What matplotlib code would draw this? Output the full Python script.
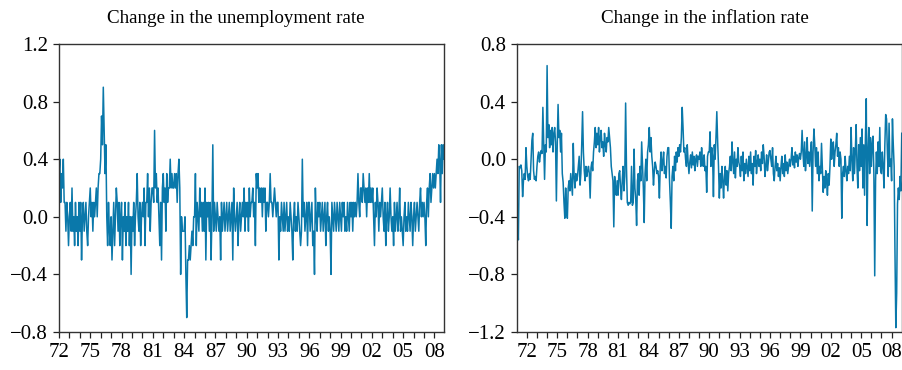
import numpy as np
import matplotlib
matplotlib.use("Agg")
import matplotlib.pyplot as plt

plt.rcParams["font.family"] = ["Liberation Serif", "DejaVu Serif"]
plt.rcParams["axes.unicode_minus"] = True

# Monthly change in the unemployment rate, Jan 1972 - Dec 2008
unemp_start = 1972
unemp_change = [
    0.3, 0.4, 0.1, 0.3, 0.2, 0.4, 0.1, 0.1, -0.1, 0.1, 0.0, -0.2,
    0.0, 0.1, -0.1, 0.2, -0.1, 0.0, -0.2, 0.1, -0.1, 0.0, -0.2, 0.1,
    -0.1, 0.1, -0.3, 0.0, 0.1, -0.1, 0.0, 0.1, -0.1, -0.2, 0.0, 0.1,
    0.2, 0.0, 0.1, -0.1, 0.1, 0.0, 0.1, 0.2, 0.0, 0.2, 0.3, 0.3,
    0.4, 0.7, 0.5, 0.9, 0.6, 0.3, 0.5, 0.0, -0.2, 0.1, -0.1, -0.2,
    0.0, -0.3, -0.1, 0.1, -0.2, 0.0, 0.2, 0.1, -0.1, 0.1, -0.2, 0.0,
    0.1, -0.3, 0.0, -0.1, 0.1, -0.2, 0.0, -0.1, 0.1, -0.2, 0.0, -0.4,
    0.0, -0.1, 0.1, -0.2, 0.0, 0.1, 0.3, 0.0, -0.1, 0.1, -0.2, 0.0,
    0.1, 0.0, 0.2, -0.2, 0.1, 0.1, 0.3, 0.0, 0.2, -0.1, 0.1, 0.2,
    0.2, 0.1, 0.6, 0.2, 0.3, 0.1, 0.2, 0.0, -0.2, 0.1, -0.3, 0.2,
    0.3, 0.1, 0.2, -0.1, 0.3, 0.1, 0.2, 0.2, 0.4, 0.2, 0.3, 0.2,
    0.2, 0.3, 0.2, 0.3, 0.1, 0.3, 0.4, 0.2, -0.4, 0.0, -0.1, -0.1,
    -0.1, 0.0, -0.4, -0.7, -0.3, -0.3, -0.2, -0.3, -0.2, -0.1, -0.2, 0.0,
    0.0, 0.3, -0.2, 0.1, 0.0, -0.1, 0.2, 0.0, 0.1, -0.1, 0.1, -0.1,
    0.2, -0.3, 0.1, 0.0, 0.1, -0.1, 0.1, -0.3, 0.0, 0.5, -0.1, 0.1,
    0.0, -0.1, 0.1, 0.0, -0.1, 0.0, -0.3, 0.1, -0.1, 0.0, 0.1, -0.1,
    0.0, 0.1, -0.1, 0.0, 0.1, -0.1, 0.0, 0.1, -0.3, 0.2, 0.0, -0.1,
    0.0, 0.1, -0.2, 0.0, 0.1, -0.1, 0.0, 0.1, 0.0, 0.2, -0.1, 0.1,
    0.0, 0.1, -0.1, 0.2, 0.0, 0.1, 0.1, 0.2, 0.0, 0.1, -0.2, 0.3,
    0.2, 0.3, 0.1, 0.2, 0.1, 0.2, 0.0, 0.2, 0.1, 0.2, -0.1, 0.1,
    0.1, 0.0, 0.1, 0.3, 0.1, 0.1, 0.0, 0.1, 0.2, 0.1, 0.0, 0.1,
    0.1, -0.3, 0.0, -0.1, 0.1, 0.0, -0.1, 0.1, -0.1, 0.0, 0.1, -0.1,
    0.0, -0.1, 0.1, 0.0, -0.1, -0.3, 0.0, 0.1, -0.1, 0.0, -0.1, 0.1,
    0.0, -0.1, -0.2, -0.1, 0.4, 0.0, 0.1, -0.1, 0.0, 0.1, -0.2, 0.1,
    0.1, -0.1, 0.0, 0.1, -0.2, -0.1, -0.4, 0.2, 0.0, -0.1, 0.1, 0.0,
    0.1, -0.1, 0.0, 0.1, -0.1, 0.0, 0.1, -0.2, 0.0, 0.1, -0.1, 0.0,
    -0.1, -0.4, 0.1, 0.0, -0.1, 0.1, 0.0, -0.1, 0.1, 0.0, -0.1, 0.1,
    0.0, -0.1, 0.1, 0.0, 0.1, -0.1, 0.0, -0.1, 0.1, 0.0, -0.1, 0.1,
    0.0, 0.1, -0.1, 0.1, 0.0, 0.1, 0.0, 0.1, 0.3, 0.1, 0.0, 0.2,
    0.2, 0.1, 0.3, 0.2, 0.1, 0.2, 0.0, 0.2, 0.1, 0.3, 0.1, 0.2,
    0.1, 0.2, 0.0, -0.2, 0.1, 0.0, 0.2, 0.1, -0.1, 0.1, 0.0, 0.1,
    0.2, 0.0, -0.1, 0.1, -0.2, 0.0, 0.1, -0.1, 0.0, 0.2, 0.0, -0.1,
    0.0, -0.2, 0.1, -0.1, 0.0, 0.1, -0.1, 0.0, 0.2, -0.1, 0.0, -0.1,
    -0.2, 0.0, 0.1, -0.1, 0.0, -0.1, 0.1, 0.0, -0.1, 0.1, 0.0, -0.2,
    0.0, 0.1, -0.1, 0.0, 0.1, 0.0, -0.1, 0.1, 0.2, 0.0, 0.1, 0.0,
    0.1, 0.0, -0.2, 0.1, 0.2, 0.0, 0.2, 0.3, 0.1, 0.2, 0.3, 0.2,
    0.3, 0.2, 0.3, 0.4, 0.3, 0.5, 0.4, 0.1, 0.5, 0.3, 0.5, 0.4,
]

# Monthly change in the inflation rate, Jan 1971 - Jan 2009
infl_start = 1971
infl_change = [
    -0.03, -0.45, -0.56, -0.05, -0.06, -0.04, -0.08, -0.26, -0.15, -0.10, -0.14, 0.08,
    -0.05, -0.12, -0.15, -0.10, -0.14, 0.00, 0.13, 0.18, -0.08, -0.14, -0.12, -0.15,
    -0.05, 0.02, 0.05, -0.02, 0.03, 0.06, 0.04, 0.36, 0.12, -0.14, 0.10, 0.05,
    0.65, 0.15, 0.24, 0.08, 0.20, 0.10, 0.22, 0.05, 0.18, 0.22, 0.12, -0.29,
    0.10, 0.38, 0.15, 0.20, 0.05, 0.18, -0.10, -0.16, -0.30, -0.41, -0.20, -0.35,
    -0.41, -0.20, -0.15, -0.22, -0.10, -0.18, -0.25, 0.11, -0.12, -0.20, -0.10, -0.15,
    -0.12, -0.05, 0.02, -0.18, -0.10, 0.10, 0.33, 0.05, -0.08, -0.15, -0.05, -0.12,
    -0.08, -0.05, -0.10, -0.27, -0.06, -0.02, -0.08, 0.05, 0.12, 0.22, 0.08, 0.18,
    0.10, 0.22, 0.05, 0.15, 0.20, 0.08, 0.12, 0.02, 0.18, 0.10, 0.05, 0.15,
    0.12, 0.22, 0.15, 0.08, -0.05, -0.10, -0.15, -0.47, -0.12, -0.20, -0.25, -0.15,
    -0.25, -0.10, -0.08, -0.20, -0.28, -0.15, -0.05, -0.22, -0.12, 0.39, -0.05, -0.30,
    -0.32, -0.30, -0.31, -0.30, -0.05, -0.32, -0.30, 0.07, -0.20, -0.28, -0.46, -0.15,
    -0.10, -0.25, -0.05, -0.15, 0.12, -0.05, -0.20, -0.44, -0.10, 0.00, -0.15, 0.05,
    0.10, 0.22, 0.05, 0.15, 0.02, -0.05, -0.18, -0.08, -0.02, -0.05, -0.10, -0.08,
    -0.12, -0.27, -0.05, 0.05, -0.08, -0.02, 0.05, -0.10, -0.05, -0.13, 0.02, 0.08,
    0.08, -0.15, -0.30, -0.48, -0.12, -0.05, -0.15, 0.02, -0.08, 0.05, -0.02, 0.08,
    0.02, 0.10, 0.05, 0.15, 0.36, 0.22, 0.05, 0.08, 0.00, -0.05, 0.10, -0.02,
    -0.10, -0.02, 0.03, -0.06, 0.05, -0.04, 0.02, -0.08, 0.00, 0.03, -0.05, 0.02,
    0.00, 0.05, -0.05, 0.08, -0.02, -0.05, 0.03, -0.08, -0.05, -0.23, 0.02, 0.05,
    0.05, 0.19, -0.05, 0.08, 0.02, -0.26, 0.10, 0.00, 0.15, 0.33, 0.12, -0.05,
    -0.27, -0.10, -0.20, -0.05, -0.15, -0.27, -0.12, -0.05, -0.18, -0.08, -0.22, -0.10,
    -0.05, 0.02, -0.08, 0.12, -0.02, -0.10, 0.05, -0.13, 0.00, -0.05, 0.08, -0.02,
    -0.05, -0.12, 0.02, -0.08, 0.05, -0.15, -0.03, -0.10, 0.00, -0.06, -0.12, 0.02,
    -0.08, 0.05, -0.10, -0.03, -0.18, 0.02, -0.05, 0.06, -0.10, -0.02, 0.03, -0.05,
    0.00, -0.08, 0.05, -0.03, 0.10, 0.02, -0.12, -0.05, 0.03, -0.08, -0.02, 0.05,
    0.06, 0.00, -0.05, 0.08, -0.10, -0.15, -0.05, 0.02, -0.08, -0.03, -0.12, -0.06,
    -0.15, -0.05, 0.02, -0.10, -0.03, -0.12, 0.03, -0.08, -0.02, -0.10, -0.05, 0.00,
    -0.05, 0.00, 0.08, -0.04, 0.02, -0.06, 0.05, -0.02, 0.03, -0.05, 0.01, 0.04,
    0.00, 0.05, 0.20, 0.05, -0.05, 0.12, -0.08, 0.02, 0.15, -0.03, 0.05, -0.05,
    0.05, 0.12, -0.36, 0.05, 0.21, 0.10, -0.05, 0.08, -0.10, 0.05, -0.15, -0.05,
    -0.10, 0.11, -0.05, -0.23, -0.12, -0.20, -0.08, -0.15, -0.25, -0.10, -0.18, -0.05,
    0.14, 0.00, 0.08, 0.12, -0.05, 0.05, 0.10, 0.18, 0.02, 0.08, -0.05, 0.05,
    0.00, -0.41, -0.10, -0.05, -0.12, 0.02, -0.08, -0.15, -0.05, -0.10, 0.02, -0.08,
    0.22, 0.00, -0.15, 0.08, -0.10, 0.05, 0.24, -0.05, -0.20, 0.10, -0.08, 0.15,
    -0.05, 0.21, -0.20, 0.10, -0.25, 0.15, 0.42, -0.46, 0.05, 0.22, -0.10, 0.15,
    -0.05, 0.10, 0.16, -0.10, -0.81, -0.15, 0.05, -0.10, 0.12, -0.05, 0.22, -0.08,
    -0.10, 0.05, -0.05, -0.20, 0.10, 0.31, 0.28, 0.05, -0.12, 0.25, -0.05, 0.00,
    -0.15, 0.28, 0.10, -0.05, -0.65, -1.17, -0.93, -0.31, -0.20, -0.28, -0.12, -0.22,
    0.18,
]

titles = ["Change in the unemployment rate", "Change in the inflation rate"]
title_x = [0.46, 0.49]
tick_years = list(range(1972, 2009))
labelled_years = list(range(1972, 2009, 3))
year_labels = ["72", "75", "78", "81", "84", "87", "90", "93", "96", "99", "02", "05", "08"]
ylims = [(-0.8, 1.2), (-1.2, 0.8)]
yticks = [[-0.8, -0.4, 0.0, 0.4, 0.8, 1.2], [-1.2, -0.8, -0.4, 0.0, 0.4, 0.8]]

LINE = "#0a78aa"

fig = plt.figure(figsize=(9.03, 3.70), dpi=100)
ax1 = fig.add_axes([0.0653, 0.1027, 0.4264, 0.7784])
ax2 = fig.add_axes([0.5722, 0.1027, 0.4264, 0.7784])

series = [
    (unemp_start, unemp_change),
    (infl_start, infl_change),
]

for ax, (start, vals), title, tx, ylim, yt in zip([ax1, ax2], series, titles, title_x, ylims, yticks):
    vals = np.asarray(vals, dtype=float)
    t = start + np.arange(len(vals)) / 12.0
    ax.plot(t, vals, color=LINE, lw=1.1)
    ax.set_xlim(t[0], t[-1])
    ax.set_ylim(*ylim)
    ax.set_yticks(yt)
    ax.set_yticklabels([f"{v:.1f}".replace("-", "\u2212") for v in yt])
    ax.set_xticks(tick_years, minor=True)
    ax.set_xticks(labelled_years)
    ax.set_xticklabels(year_labels)
    ax.tick_params(axis="both", which="both", direction="out", length=4.3,
                   width=0.9, color="#222222", labelsize=15, pad=3.5,
                   top=False, right=False)
    ax.set_title(title, fontsize=13.7, pad=15, x=tx)
    for sp in ax.spines.values():
        sp.set_color("#333333")
        sp.set_linewidth(1.0)

fig.savefig("out.png", dpi=100)
